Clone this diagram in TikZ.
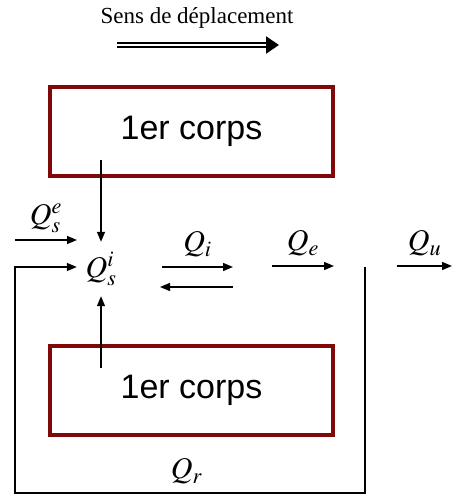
\documentclass[tikz,border=0pt]{standalone}
\usepackage{mathptmx}
\usepackage[no-math]{fontspec}
\setmainfont{Liberation Serif}
\setsansfont{Liberation Sans}
\usetikzlibrary{arrows.meta}
\definecolor{bordeaux}{RGB}{128,8,8}

\begin{document}
\begin{tikzpicture}[x=1pt, y=-1pt, >={Triangle[length=10pt, width=8pt]},
		corps/.style={draw=bordeaux, line width=4pt, minimum width=283pt, minimum height=89pt, font=\sffamily\fontsize{34}{40}\selectfont},
		flux/.style={->, line width=1.4pt},
		lbl/.style={inner sep=0pt, font=\fontsize{30}{36}\selectfont}]
				\useasboundingbox (0,0) rectangle (452,495);
				% sens de deplacement
				\node[font=\fontsize{23}{28}\selectfont] (titre) at (197,18) {Sens de déplacement};
				\coordinate (s1) at (117,45);
				\coordinate (s2) at (279,45);
				\draw[line width=2.3pt, double distance=2.2pt, -{Triangle[length=13pt, width=17pt]}] (s1) -- (s2);
				
				% les deux corps
				\node[corps] (corps1) at (191.5,131) {1er corps};
				\node[corps] (corps2) at (191.5,390) {1er corps};
				
				\node[lbl, minimum width=48pt, minimum height=54pt] (qsi) at (101,269) {$Q_s^i$};
				\coordinate (c1) at (101,160);
				\coordinate (c2) at (101,368);
				\draw[flux] (c1) -- (qsi.north);
				\draw[flux] (c2) -- (qsi.south);
				
				% entree
				\coordinate (e1) at (15,240);
				\coordinate (e2) at (77,240);
				\draw[flux] (e1) -- node[lbl, above=7pt] (qse) {$Q_s^e$} (e2);
				
				% flux entre les corps
				\coordinate (i1) at (162,267);
				\coordinate (i2) at (233,267);
				\coordinate (i3) at (233,287);
				\coordinate (i4) at (160,287);
				\draw[flux] (i1) -- node[lbl, above=9pt] (qi) {$Q_i$} (i2);
				\draw[flux] (i3) -- (i4);
				
				\coordinate (f1) at (272,266);
				\coordinate (f2) at (334,266);
				\draw[flux] (f1) -- node[lbl, above=9pt] (qe) {$Q_e$} (f2);
				
				\coordinate (u1) at (397,266);
				\coordinate (u2) at (452,266);
				\draw[flux] (u1) -- node[lbl, above=9pt] (qu) {$Q_u$} (u2);
				
				% recyclage
				\coordinate (r1) at (365,267);
				\coordinate (r2) at (365,493);
				\coordinate (r3) at (15,493);
				\coordinate (r4) at (15,267);
				\draw[flux] (r1) -- (r2) -- node[lbl, above=8pt, pos=0.51] (qr) {$Q_r$} (r3) -- (r4) -- (qsi.west |- r4);
			\end{tikzpicture}
\end{document}
